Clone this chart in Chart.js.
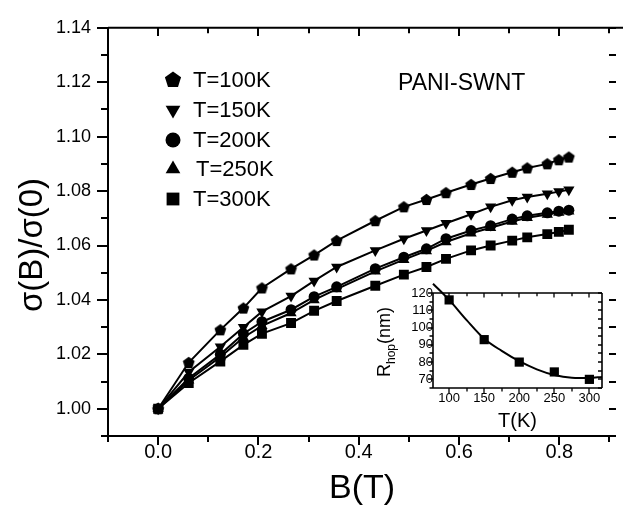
<!DOCTYPE html>
<html>
<head>
<meta charset="utf-8">
<script src="https://cdn.jsdelivr.net/npm/chart.js@4.4.1/dist/chart.umd.min.js"></script>
<style>
  html, body { margin: 0; padding: 0; background: #fff; }
  #wrap { position: relative; width: 623px; height: 509px; }
  #main { position: absolute; left: 0; top: 0; }
  #inset { position: absolute; left: 385px; top: 268px; }
</style>
</head>
<body>
<div id="wrap">
  <canvas id="main" width="623" height="509"></canvas>
  <canvas id="inset" width="235" height="175"></canvas>
</div>
<script>
// ---- data ----
const fieldB = [0, 0.061, 0.124, 0.170, 0.207, 0.265, 0.311, 0.356, 0.433, 0.490, 0.535, 0.574, 0.624, 0.663, 0.706, 0.736, 0.776, 0.799, 0.819];
const sigma100K = [1.000, 1.0170, 1.0290, 1.0370, 1.0444, 1.0514, 1.0565, 1.0618, 1.0691, 1.0742, 1.0769, 1.0794, 1.0824, 1.0846, 1.0869, 1.0885, 1.0900, 1.0915, 1.0925];
const sigma150K = [1.000, 1.0135, 1.0228, 1.0300, 1.0357, 1.0414, 1.0470, 1.0521, 1.0582, 1.0625, 1.0655, 1.0682, 1.0715, 1.0742, 1.0766, 1.0778, 1.0790, 1.0798, 1.0805];
const sigma200K = [1.000, 1.0112, 1.0200, 1.0276, 1.0320, 1.0364, 1.0412, 1.0448, 1.0515, 1.0557, 1.0588, 1.0625, 1.0655, 1.0673, 1.0697, 1.0709, 1.0720, 1.0726, 1.0730];
const sigma250K = [1.000, 1.0105, 1.0190, 1.0262, 1.0305, 1.0352, 1.0400, 1.0440, 1.0505, 1.0548, 1.0580, 1.0613, 1.0645, 1.0665, 1.0688, 1.0702, 1.0714, 1.0721, 1.0726];
const sigma300K = [1.000, 1.0095, 1.0174, 1.0235, 1.0276, 1.0315, 1.0360, 1.0396, 1.0452, 1.0493, 1.0521, 1.0551, 1.0582, 1.0600, 1.0618, 1.0630, 1.0642, 1.0650, 1.0658];
const seriesLabels = ['T=100K', 'T=150K', 'T=200K', 'T=250K', 'T=300K'];
const xTicks = [0.0, 0.2, 0.4, 0.6, 0.8];
const yTicks = [1.00, 1.02, 1.04, 1.06, 1.08, 1.10, 1.12, 1.14];

// inset: hopping length vs temperature
const insetT = [100, 150, 200, 250, 300];
const insetR = [116, 93, 80, 74.3, 70];
const fitT = [77, 100, 125, 150, 175, 200, 225, 250, 275, 300, 318];
const fitR = [125.4, 116, 104.3, 93.5, 86.5, 80.5, 75.8, 72.5, 71, 70.8, 71.4];
const insetXTicks = [100, 150, 200, 250, 300];
const insetYTicks = [70, 80, 90, 100, 110, 120];

const FONT = '"Liberation Sans", Arial, sans-serif';
const markerKinds = ['pentagon', 'triangleDown', 'circle', 'triangle', 'rect'];

// ---- markers ----
function drawMarker(g, kind, x, y, r) {
  g.fillStyle = '#000';
  g.beginPath();
  if (kind === 'circle') {
    g.arc(x, y, r, 0, Math.PI * 2);
  } else if (kind === 'rect') {
    g.rect(x - r * 0.8, y - r * 0.8, r * 1.6, r * 1.6);
  } else {
    const n = kind === 'pentagon' ? 5 : 3;
    const rot = kind === 'triangleDown' ? Math.PI : 0;
    for (let i = 0; i < n; i++) {
      const ang = rot + i * 2 * Math.PI / n;
      const px = x + r * Math.sin(ang);
      const py = y - r * Math.cos(ang);
      if (i === 0) g.moveTo(px, py); else g.lineTo(px, py);
    }
    g.closePath();
  }
  g.fill();
}

function pentagonCanvas(r) {
  const c = document.createElement('canvas');
  const s = Math.ceil(r * 2 + 2);
  c.width = s; c.height = s;
  drawMarker(c.getContext('2d'), 'pentagon', s / 2, s / 2 + 0.5, r);
  return c;
}

function minorValues(majors, min, max) {
  const step = majors[1] - majors[0];
  const out = [];
  for (let v = majors[0] - step / 2; v <= max + 1e-9; v += step) {
    if (v >= min - 1e-9) out.push(v);
  }
  return out;
}

// ---- frame + ticks (Origin style) ----
const frameTicks = {
  id: 'frameTicks',
  afterDraw(chart, args, o) {
    const { ctx, chartArea: a, scales: { x, y } } = chart;
    const xs = x.ticks.map((t) => [t.value, o.major]).concat(minorValues(x.ticks.map((t) => t.value), x.min, x.max).map((v) => [v, o.minor]));
    const ys = y.ticks.map((t) => [t.value, o.majorY]).concat(minorValues(y.ticks.map((t) => t.value), y.min, y.max).map((v) => [v, o.minorY]));
    ctx.save();
    ctx.strokeStyle = '#000';
    ctx.lineWidth = o.axisWidth;
    ctx.beginPath();
    ctx.moveTo(a.left, a.top); ctx.lineTo(a.left, a.bottom + o.overhang);
    ctx.moveTo(a.left - o.overhang, a.bottom); ctx.lineTo(o.bottomEnd || a.right, a.bottom);
    ctx.moveTo(a.left, a.top); ctx.lineTo(o.topEnd || a.right, a.top);
    if (o.rightLine) { ctx.moveTo(a.right, a.top); ctx.lineTo(a.right, a.bottom); }
    ctx.stroke();

    ctx.lineWidth = o.tickWidth;
    ctx.beginPath();
    xs.forEach(([v, len]) => {
      const px = Math.round(x.getPixelForValue(v));
      ctx.moveTo(px, a.bottom); ctx.lineTo(px, a.bottom + len);      // bottom, outward
      ctx.moveTo(px, a.top); ctx.lineTo(px, a.top + len * 0.9);       // top, inward
    });
    ys.forEach(([v, len]) => {
      const py = Math.round(y.getPixelForValue(v));
      ctx.moveTo(a.left - len, py); ctx.lineTo(a.left, py);           // left, outward
      ctx.moveTo(a.right, py); ctx.lineTo(a.right - o.rightLen, py);   // right, inward
    });
    ctx.stroke();
    ctx.restore();
  },
};

// ---- texts on the main chart: y titles, legend, sample name ----
const mainTexts = {
  id: 'mainTexts',
  afterDraw(chart) {
    const ctx = chart.ctx;
    ctx.save();
    ctx.fillStyle = '#000';
    ctx.translate(33, 245);
    ctx.rotate(-Math.PI / 2);
    ctx.font = `33px ${FONT}`;
    ctx.textAlign = 'center';
    ctx.textBaseline = 'middle';
    ctx.fillText('σ(B)/σ(0)', 0, 0);
    ctx.restore();

    ctx.save();
    ctx.fillStyle = '#000';
    ctx.font = `22px ${FONT}`;
    ctx.textBaseline = 'middle';
    const rows = [80, 110, 140, 169, 199];
    const sizes = [8.5, 8.5, 7.5, 8.5, 8];
    seriesLabels.forEach((lab, i) => {
      drawMarker(ctx, markerKinds[i], 173, rows[i], sizes[i]);
      ctx.fillText(lab, i === 3 ? 196 : 193, rows[i] + 1);
    });
    ctx.font = `23px ${FONT}`;
    ctx.textBaseline = 'alphabetic';
    ctx.fillText('PANI-SWNT', 398, 90);
    ctx.restore();

    // inset y title R_hop(nm), left of the inset frame
    ctx.save();
    ctx.fillStyle = '#000';
    ctx.translate(385, 342);
    ctx.rotate(-Math.PI / 2);
    ctx.textBaseline = 'middle';
    const big = `18px ${FONT}`, small = `12px ${FONT}`;
    ctx.font = big; const wR = ctx.measureText('R').width; const wN = ctx.measureText('(nm)').width;
    ctx.font = small; const wH = ctx.measureText('hop').width;
    let sx = -(wR + wH + wN) / 2;
    ctx.font = big; ctx.fillText('R', sx, 0); sx += wR;
    ctx.font = small; ctx.fillText('hop', sx, 7); sx += wH;
    ctx.font = big; ctx.fillText('(nm)', sx, 0);
    ctx.restore();
  },
};

const mkData = (arr) => fieldB.map((b, i) => ({ x: b, y: arr[i] }));
const seriesData = [sigma100K, sigma150K, sigma200K, sigma250K, sigma300K];
const pointStyles = [pentagonCanvas(6.2), 'triangle', 'circle', 'triangle', 'rect'];
const pointRadii = [6, 6.5, 5.5, 6.5, 7];

new Chart(document.getElementById('main'), {
  type: 'line',
  data: {
    datasets: seriesData.map((arr, i) => ({
      label: seriesLabels[i],
      data: mkData(arr),
      borderColor: '#000',
      borderWidth: 2,
      backgroundColor: '#000',
      pointBackgroundColor: '#000',
      pointBorderColor: '#000',
      pointBorderWidth: 0,
      pointStyle: pointStyles[i],
      pointRotation: i === 1 ? 180 : 0,
      pointRadius: pointRadii[i],
      tension: 0,
    })),
  },
  options: {
    responsive: false,
    animation: false,
    events: [],
    layout: { padding: { left: 0, right: 3, top: 18, bottom: 0 } },
    plugins: {
      legend: { display: false },
      tooltip: { enabled: false },
      frameTicks: { axisWidth: 2, tickWidth: 2, major: 9, minor: 6, majorY: 11, minorY: 7, rightLen: 7, overhang: 3, topEnd: 623 },
    },
    scales: {
      x: {
        type: 'linear',
        min: -0.1,
        max: 0.913,
        afterBuildTicks: (s) => { s.ticks = xTicks.map((v) => ({ value: v })); },
        afterFit: (s) => { s.height = 73; },
        grid: { display: false, drawTicks: false },
        border: { display: false },
        ticks: { color: '#000', padding: 4, font: { family: FONT, size: 20 }, callback: (v) => v.toFixed(1), maxRotation: 0 },
        title: { display: true, text: 'B(T)', color: '#000', font: { family: FONT, size: 34 }, padding: 0 },
      },
      y: {
        min: 0.99,
        max: 1.14,
        afterBuildTicks: (s) => { s.ticks = yTicks.map((v) => ({ value: v })); },
        afterFit: (s) => { s.width = 108; },
        grid: { display: false, drawTicks: false },
        border: { display: false },
        ticks: { color: '#000', padding: 17, font: { family: FONT, size: 18 }, callback: (v) => v.toFixed(2) },
      },
    },
  },
  plugins: [frameTicks, mainTexts],
});

new Chart(document.getElementById('inset'), {
  type: 'line',
  data: {
    datasets: [
      {
        data: fitT.map((t, i) => ({ x: t, y: fitR[i] })),
        borderColor: '#000',
        borderWidth: 2,
        pointRadius: 0,
        cubicInterpolationMode: 'monotone',
        clip: false,
      },
      {
        data: insetT.map((t, i) => ({ x: t, y: insetR[i] })),
        showLine: false,
        pointStyle: 'rect',
        pointRadius: 6.5,
        pointBackgroundColor: '#000',
        pointBorderWidth: 0,
      },
    ],
  },
  options: {
    responsive: false,
    animation: false,
    events: [],
    layout: { padding: { left: 0, right: 18, top: 25, bottom: 9.3 } },
    plugins: {
      legend: { display: false },
      tooltip: { enabled: false },
      frameTicks: { axisWidth: 1.6, tickWidth: 1.3, major: 5, minor: 3.5, majorY: 5, minorY: 3.5, rightLen: 4, overhang: 0, rightLine: true },
    },
    scales: {
      x: {
        type: 'linear',
        min: 77,
        max: 318,
        afterBuildTicks: (s) => { s.ticks = insetXTicks.map((v) => ({ value: v })); },
        afterFit: (s) => { s.height = 45.7; },
        grid: { display: false, drawTicks: false },
        border: { display: false },
        ticks: { color: '#000', padding: 3, font: { family: FONT, size: 13 }, maxRotation: 0 },
        title: { display: true, text: 'T(K)', color: '#000', font: { family: FONT, size: 20 }, padding: 0 },
      },
      y: {
        min: 65,
        max: 120,
        afterBuildTicks: (s) => { s.ticks = insetYTicks.map((v) => ({ value: v })); },
        afterFit: (s) => { s.width = 48; },
        grid: { display: false, drawTicks: false },
        border: { display: false },
        ticks: { color: '#000', padding: 0, font: { family: FONT, size: 13 } },
      },
    },
  },
  plugins: [frameTicks],
});
</script>
</body>
</html>
